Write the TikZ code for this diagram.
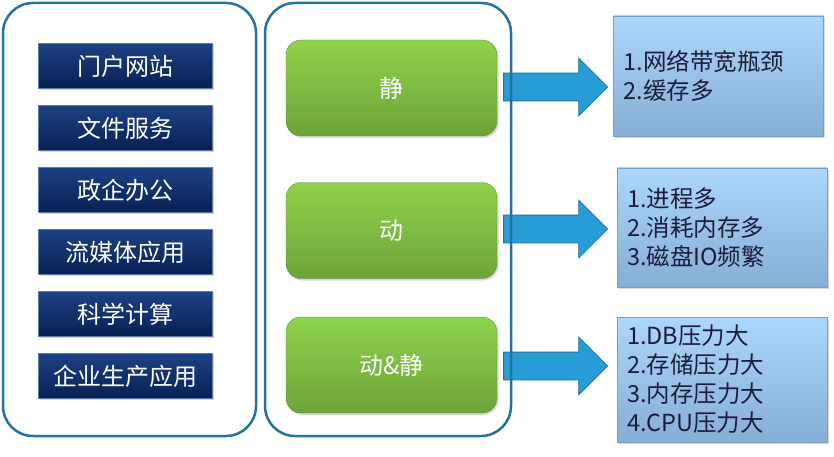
\documentclass[tikz,border=0pt]{standalone}
\usepackage{fontspec}
\setmainfont{Noto Sans CJK SC}
\usetikzlibrary{shapes.arrows,shadows}
\definecolor{frameblue}{RGB}{34,114,162}
\definecolor{navytop}{RGB}{28,66,132}
\definecolor{navybot}{RGB}{8,32,82}
\definecolor{greentop}{RGB}{142,210,76}
\definecolor{greenbot}{RGB}{108,164,56}
\definecolor{skytop}{RGB}{172,214,250}
\definecolor{skybot}{RGB}{134,174,214}
\definecolor{arrowblue}{RGB}{40,156,214}
\definecolor{inktext}{RGB}{28,28,60}
\tikzset{
  frame/.style={draw=frameblue, line width=2.5pt, rounded corners=30pt},
  appbox/.style={rectangle, top color=navytop, bottom color=navybot,
    draw=navytop!70!white, minimum width=174pt, minimum height=45pt,
    text=white, font=\fontsize{24}{28}\selectfont,
    drop shadow={shadow xshift=1.5pt, shadow yshift=-1.5pt, opacity=0.35}},
  kindbox/.style={rectangle, rounded corners=15pt, top color=greentop,
    bottom color=greenbot, draw=greenbot!90!black, minimum width=211pt,
    minimum height=96pt, text=white, font=\fontsize{24}{28}\selectfont,
    drop shadow={shadow xshift=1.5pt, shadow yshift=-2pt, opacity=0.3}},
  notebox/.style={rectangle, top color=skytop, bottom color=skybot,
    draw=skybot!90!black, text width=190pt, inner xsep=10pt,
    align=left, text=inktext, font=\fontsize{23.5}{29}\selectfont,
    drop shadow={shadow xshift=1.5pt, shadow yshift=-2pt, opacity=0.3}},
  bigarrow/.style={single arrow, fill=arrowblue, draw=arrowblue!75!black,
    line width=0.8pt, inner sep=13.5pt, minimum width=0pt,
    minimum height=104pt, single arrow head extend=15pt,
    single arrow tip angle=90, anchor=tail}
}
\begin{document}
\begin{tikzpicture}[x=1pt, y=-1pt]
  \useasboundingbox (0,0) rectangle (834,457);
  % Applications
  \foreach \name/\txt [count=\i] in {l1/门户网站, l2/文件服务, l3/政企办公,
      l4/流媒体应用, l5/科学计算, l6/企业生产应用}
    \node[appbox] (\name) at (125, 4+62*\i) {\txt};
  % Content types
  \node[kindbox] (g1) at (391.5, 88)  {静};
  \node[kindbox] (g2) at (391.5, 230.5) {动};
  \node[kindbox] (g3) at (391.5, 365) {动\&静};
  % Bottlenecks
  \node[notebox, minimum height=120pt] (n1) at (718.5, 76)
    {1.网络带宽瓶颈\\2.缓存多};
  \node[notebox, minimum height=119pt] (n2) at (722, 227.5)
    {1.进程多\\2.消耗内存多\\3.磁盘IO频繁};
  \node[notebox, minimum height=125pt] (n3) at (722, 379.5)
    {1.DB压力大\\2.存储压力大\\3.内存压力大\\4.CPU压力大};
  % Arrows
  \node[bigarrow] (a1) at ([xshift=6pt, yshift=1pt]g1.east) {};
  \node[bigarrow] (a2) at ([xshift=6pt, yshift=1.5pt]g2.east) {};
  \node[bigarrow] (a3) at ([xshift=6pt, yshift=-1pt]g3.east) {};
  % Frames
  \draw[frame] (3,3) rectangle (256,436);
  \draw[frame] (265,3) rectangle (511,436);
\end{tikzpicture}
\end{document}
